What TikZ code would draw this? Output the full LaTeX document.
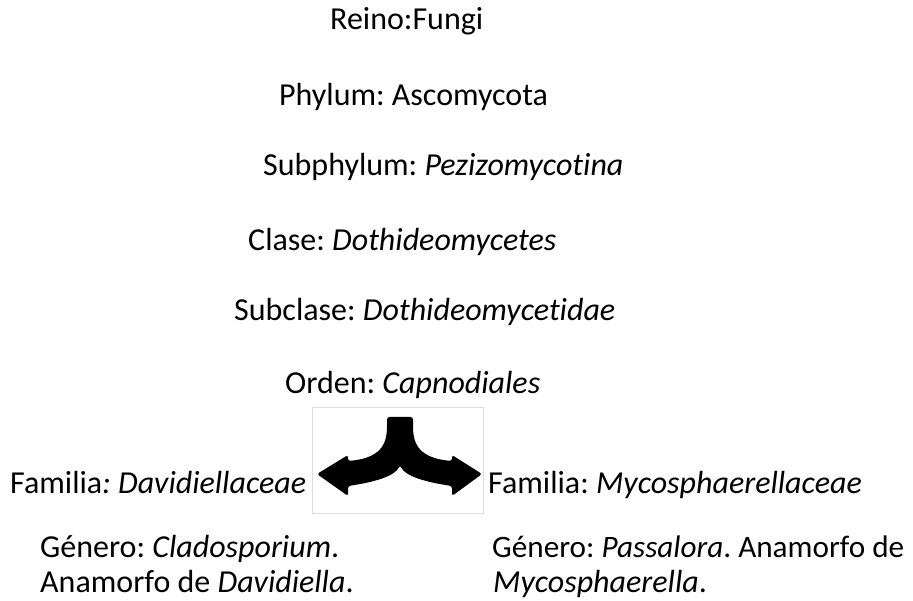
\documentclass[tikz,border=0pt]{standalone}
\usepackage{fontspec}
\setmainfont{Carlito}[Ligatures=NoCommon]
\usepackage{tikz}
\usetikzlibrary{positioning}
\usepackage[svgnames,table]{xcolor}
\frenchspacing

\tikzset{
  rango/.style={anchor=base west, inner sep=0pt, font=\fontsize{32}{35}\selectfont},
}

\begin{document}
\begin{tikzpicture}[x=1pt, y=-1pt]
        \useasboundingbox (0,0) rectangle (913,601);

        \node[rango] (reino) at (330,30) {Reino:Fungi};
        \node[rango] (phylum) at (279,106) {Phylum: Ascomycota};
        \node[rango] (subphylum) at (263,176) {Subphylum: \textit{Pezizomycotina}};
        \node[rango] (clase) at (248,251) {Clase: \textit{Dothideomycetes}};
        \node[rango] (subclase) at (234,321) {Subclase: \textit{Dothideomycetidae}};
        \node[rango] (orden) at (285,394) {Orden: \textit{Capnodiales}};

        % icono de la flecha doble
        \draw[Gainsboro, line width=0.8pt] (312,407) rectangle (483,513);
        \fill[black, rounded corners=2.5pt]
          (387,417) -- (413,417) -- (413,424)
          .. controls (413,445) and (420,458) .. (452,461)
          -- (452,455) -- (482,474) -- (452,496) -- (452,486)
          .. controls (425,482) and (405,476) .. (400,465)
          .. controls (395,476) and (375,482) .. (348,486)
          -- (348,496) -- (317,474) -- (348,455) -- (348,461)
          .. controls (380,458) and (387,445) .. (387,424) -- cycle;

        \node[rango] (familia1) at (10,493) {Familia\textit{: Davidiellaceae}};
        \node[rango] (familia2) at (488,493) {Familia: \textit{Mycosphaerellaceae}};

        \node[rango] (genero1) at (40,557) {Género: \textit{Cladosporium}.};
        \node[rango] (anam1) at (40,592) {Anamorfo de \textit{Davidiella}.};
        \node[rango, font=\fontsize{31.2}{35}\selectfont] (genero2) at (492,557) {Género: \textit{Passalora}. Anamorfo de};
        \node[rango] (anam2) at (493,592) {\textit{Mycosphaerella}.};
    \end{tikzpicture}
\end{document}
